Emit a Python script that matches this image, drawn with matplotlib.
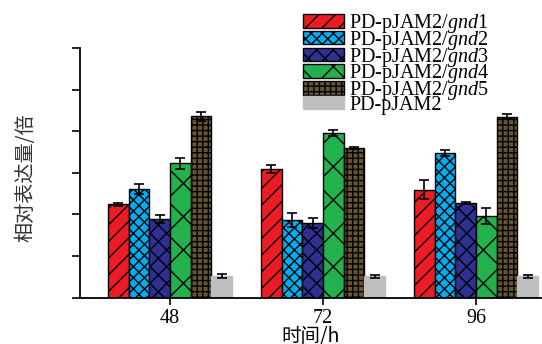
import matplotlib
matplotlib.use("Agg")
import matplotlib.pyplot as plt
import numpy as np

plt.rcParams['mathtext.fontset'] = 'custom'
plt.rcParams['mathtext.rm'] = 'Liberation Serif'
plt.rcParams['mathtext.it'] = 'Liberation Serif:italic'
plt.rcParams['hatch.linewidth'] = 1.0

categories = ['48', '72', '96']
series_labels = ['PD-pJAM2/$\\mathit{gnd}$1', 'PD-pJAM2/$\\mathit{gnd}$2', 'PD-pJAM2/$\\mathit{gnd}$3',
                 'PD-pJAM2/$\\mathit{gnd}$4', 'PD-pJAM2/$\\mathit{gnd}$5', 'PD-pJAM2']
gnd1 = [4.49, 6.19, 5.19]
gnd2 = [5.21, 3.73, 6.96]
gnd3 = [3.77, 3.59, 4.55]
gnd4 = [6.46, 7.92, 3.91]
gnd5 = [8.72, 7.21, 8.70]
ctrl = [1.04, 1.04, 1.02]
gnd1_err = [0.07, 0.18, 0.45]
gnd2_err = [0.24, 0.35, 0.13]
gnd3_err = [0.19, 0.24, 0.06]
gnd4_err = [0.27, 0.13, 0.38]
gnd5_err = [0.22, 0.05, 0.13]
ctrl_err = [0.10, 0.07, 0.05]

values = [gnd1, gnd2, gnd3, gnd4, gnd5, ctrl]
errors = [gnd1_err, gnd2_err, gnd3_err, gnd4_err, gnd5_err, ctrl_err]
colors = ['#ED1C24', '#00AEEF', '#2E3192', '#22B14C', '#675434', '#BCBEC0']
hatches = ['//', 'xxx', 'xx', 'x', '+++', '']
edges = ['black', 'black', 'black', 'black', 'black', '#BCBEC0']

fig = plt.figure(figsize=(5.42, 3.44), dpi=100)
ax = fig.add_axes([0.1476, 0.1346, 0.8524, 0.7259])

x = np.arange(len(categories))
w = 0.135
for i in range(6):
    ax.bar(x + (i - 2.5) * w, values[i], w, color=colors[i], hatch=hatches[i],
           edgecolor=edges[i], linewidth=1.0, label=series_labels[i],
           yerr=errors[i], capsize=3.5,
           error_kw=dict(ecolor='black', elinewidth=1.2, capthick=1.2), zorder=2)

ax.set_xlim(-0.588, 2.431)
ax.set_ylim(0, 12)
ax.set_yticks(np.arange(0, 13, 2))
ax.set_yticklabels([])
ax.set_xticks(x)
ax.set_xticklabels(categories, fontfamily='Liberation Serif', fontsize=14.5)
ax.tick_params(axis='y', direction='out', length=6, width=1.2)
ax.tick_params(axis='x', direction='out', length=5, width=1.2, pad=3)
for s in ['top', 'right']:
    ax.spines[s].set_visible(False)
for s in ['left', 'bottom']:
    ax.spines[s].set_linewidth(1.3)

ax.set_xlabel('时间/h', fontfamily=['Noto Sans CJK SC', 'DejaVu Sans'], fontsize=14, labelpad=-1.5)
fig.text(0.047, 0.483, '相对表达量/倍', rotation=90, ha='center', va='center',
         fontfamily=['Noto Sans CJK SC', 'DejaVu Sans'], fontsize=14.5, color='#333333')

leg = fig.legend(loc='upper left', bbox_to_anchor=(303 / 542, 1 - 12 / 344),
                 frameon=False, borderpad=0, prop={'family': 'Liberation Serif', 'size': 14.5},
                 handlelength=2.05, handleheight=0.65, handletextpad=0.25, labelspacing=-0.31,
                 borderaxespad=0)

fig.savefig('out.png', dpi=100)
